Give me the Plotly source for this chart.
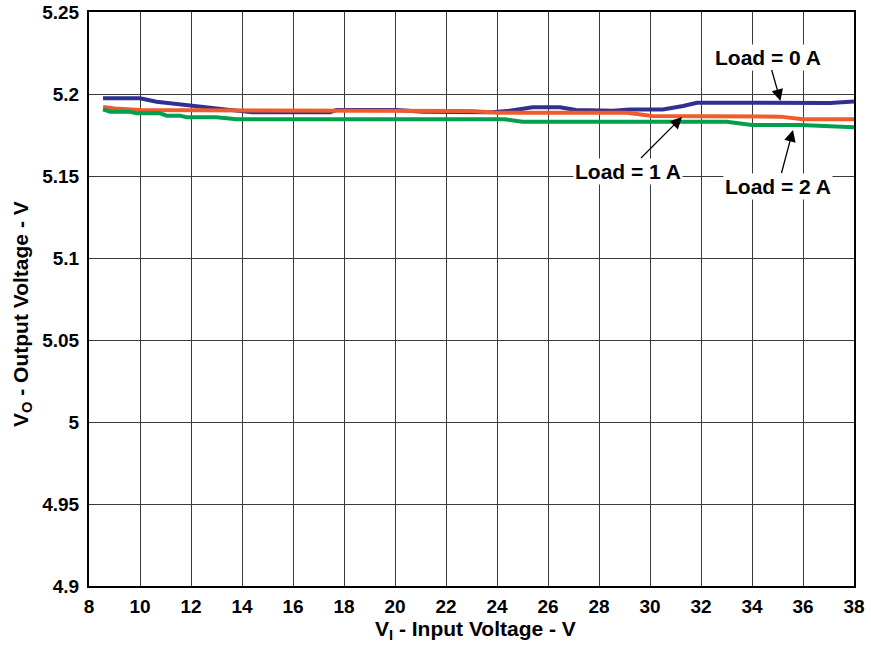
import plotly.graph_objects as go

# Data
x_0a = [8.55, 10.0, 10.65, 11.96, 13.9, 14.4, 17.45, 17.7, 20.07, 21.1, 23.7, 24.5, 25.4, 26.47, 27.1, 28.55, 29.2, 30.5, 31.3, 31.84, 37.06, 38.0]
v_0a = [5.1974, 5.1974, 5.1953, 5.1929, 5.1898, 5.1888, 5.1888, 5.1902, 5.1902, 5.1892, 5.1888, 5.1898, 5.1919, 5.1919, 5.1902, 5.1898, 5.1906, 5.1906, 5.1927, 5.1947, 5.1945, 5.1955]

x_1a = [8.55, 9.0, 10.0, 17.2, 18.0, 23.0, 24.0, 29.1, 30.1, 32.0, 33.0, 35.1, 36.0, 38.0]
v_1a = [5.1921, 5.1912, 5.1902, 5.1902, 5.1896, 5.1896, 5.1886, 5.1886, 5.1866, 5.1866, 5.1862, 5.1862, 5.1846, 5.1846]

x_2a = [8.55, 8.82, 9.6, 9.87, 10.78, 11.05, 11.57, 11.83, 13.0, 13.8, 24.3, 25.0, 33.0, 34.0, 35.9, 38.0]
v_2a = [5.1906, 5.1892, 5.1892, 5.1882, 5.1882, 5.1868, 5.1868, 5.1858, 5.1858, 5.1846, 5.1846, 5.1831, 5.1831, 5.1811, 5.1811, 5.1797]

x_ticks = list(range(8, 39, 2))
y_ticks = [4.9, 4.95, 5.0, 5.05, 5.1, 5.15, 5.2, 5.25]
y_tick_text = ["4.9", "4.95", "5", "5.05", "5.1", "5.15", "5.2", "5.25"]

FONT = "Arial, 'Liberation Sans', sans-serif"

fig = go.Figure()
fig.add_trace(go.Scatter(x=x_0a, y=v_0a, mode="lines", line=dict(color="#2E3192", width=4), name="Load = 0 A"))
fig.add_trace(go.Scatter(x=x_1a, y=v_1a, mode="lines", line=dict(color="#F15A2B", width=4), name="Load = 1 A"))
fig.add_trace(go.Scatter(x=x_2a, y=v_2a, mode="lines", line=dict(color="#00A04F", width=4), name="Load = 2 A"))

W, H = 871, 649
L, R, T, B = 89, 17, 12, 63
pw, ph = W - L - R, H - T - B
X0, X1, Y0, Y1 = 8, 38, 4.9, 5.25

def px2x(p):
    return X0 + (p - L) / pw * (X1 - X0)

def py2y(p):
    return Y1 - (p - T) / ph * (Y1 - Y0)

ann_font = dict(family=FONT, size=21, color="black", weight="bold")
annots = [
    dict(text="Load = 0 A", tx=768, ty=57, hx=780.5, hy=101),
    dict(text="Load = 1 A", tx=628, ty=171, hx=682, hy=117),
    dict(text="Load = 2 A", tx=778, ty=186, hx=793, hy=130),
]
for a in annots:
    fig.add_annotation(x=px2x(a["hx"]), y=py2y(a["hy"]), xref="x", yref="y",
                       ax=px2x(a["tx"]), ay=py2y(a["ty"]), axref="x", ayref="y",
                       text=a["text"], showarrow=True, arrowhead=2, arrowsize=1.8, arrowwidth=1.3,
                       arrowcolor="black", standoff=0, font=ann_font,
                       bgcolor="white", borderpad=1)

title_font = dict(family=FONT, size=21, color="black", weight="bold")
fig.add_annotation(text="V<sub>I</sub> - Input Voltage - V", xref="paper", yref="paper",
                   x=(475 - L) / pw, y=0, yshift=-(630 - (H - B)), xanchor="center", yanchor="middle",
                   showarrow=False, font=title_font)
fig.add_annotation(text="V<sub>O</sub> - Output Voltage - V", xref="paper", yref="paper",
                   x=0, xshift=22 - L, y=1 - (314 - T) / ph, xanchor="center", yanchor="middle",
                   textangle=-90, showarrow=False, font=title_font)

axis_common = dict(showline=True, linecolor="black", linewidth=2, mirror=True, automargin=False,
                   showgrid=True, gridcolor="#3a3a3a", gridwidth=1, zeroline=False,
                   ticks="", tickfont=dict(family=FONT, size=19, color="black", weight="bold"))
fig.update_xaxes(range=[X0, X1], tickvals=x_ticks, ticklabelstandoff=2, **axis_common)
fig.update_yaxes(range=[Y0, Y1], tickvals=y_ticks, ticktext=y_tick_text, ticklabelstandoff=4, **axis_common)
fig.update_layout(width=W, height=H, margin=dict(l=L, r=R, t=T, b=B, autoexpand=False),
                  paper_bgcolor="white", plot_bgcolor="white", showlegend=False)
fig.write_html("out.html")
